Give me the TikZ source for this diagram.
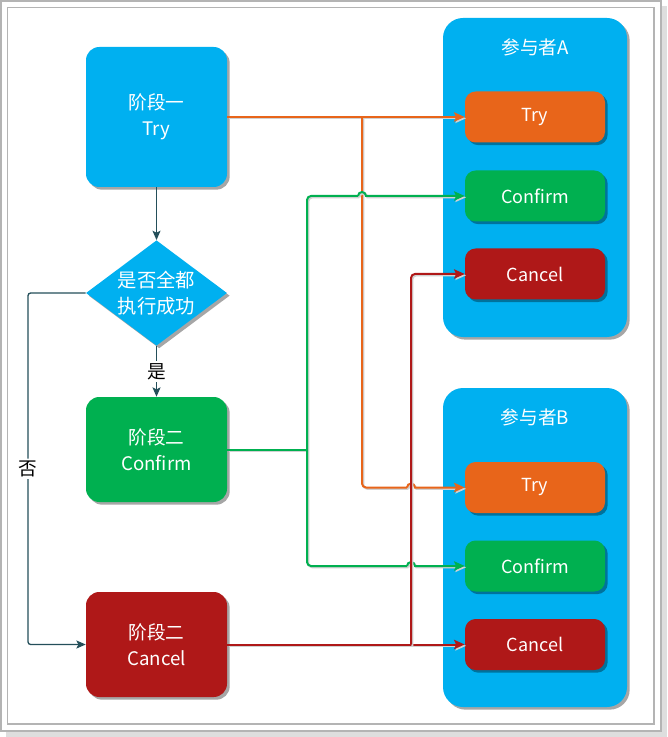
\documentclass[tikz,border=0pt]{standalone}
\usepackage{fontspec}
\newfontfamily\cjk{Noto Sans CJK SC}
\usetikzlibrary{shapes.geometric,shadows,arrows.meta}
\definecolor{cyanb}{HTML}{00B0F0}
\definecolor{greenb}{HTML}{00B050}
\definecolor{orangeb}{HTML}{E8651A}
\definecolor{redb}{HTML}{AF1818}
\definecolor{tealline}{HTML}{244F5A}
\definecolor{framegray}{HTML}{B4B4B4}
\begin{document}
\begin{tikzpicture}[x=0.75pt,y=-0.75pt,
  shade/.style={drop shadow={shadow xshift=2pt,shadow yshift=-2pt,opacity=0.35,fill=black}},
  stagebox/.style={shade,rounded corners=10pt,text=white,align=center,inner sep=0pt,
    minimum width=105.75pt,font=\cjk\fontsize{14}{19.5}\selectfont},
  decision/.style={shade,diamond,aspect=1.34,fill=cyanb,text=white,align=center,inner sep=0pt,
    minimum width=105.75pt,minimum height=79pt,font=\cjk\fontsize{14.5}{19}\selectfont},
  partbox/.style={shade,rounded corners=15pt,fill=cyanb,minimum width=138pt,minimum height=239.25pt},
  parttitle/.style={text=white,font=\cjk\fontsize{14}{16}\selectfont},
  actbox/.style={shade,rounded corners=8pt,text=white,minimum width=105pt,minimum height=38.25pt,
    inner sep=0pt,font=\cjk\fontsize{13.5}{15}\selectfont},
  flow/.style={draw=tealline,line width=1pt,-{Stealth[length=7pt,width=6pt,inset=1.5pt]}},
  lbl/.style={fill=white,text=black,inner sep=1.5pt,font=\cjk\fontsize{14}{15}\selectfont},
  conn/.style={line width=1.5pt,preaction={draw=black!18,line width=1.5pt,transform canvas={shift={(1pt,-1pt)}}}},
  tip/.style={-{Stealth[length=8pt,width=7pt,inset=1.5pt]}}
]
% page frame
\useasboundingbox (0,0) rectangle (667,737);
\fill[black!13] (6,6) rectangle (667,737);
\fill[white] (1,1) rectangle (661,731);
\draw[framegray,line width=1pt] (1,1) rectangle (661,731);
\draw[framegray,line width=1pt] (7.5,7.5) rectangle (654,724);

% participant containers
\node[partbox] (pa) at (535,177.5) {};
\node[parttitle] (pat) at (535,47) {参与者A};
\node[partbox] (pb) at (535,547.5) {};
\node[parttitle] (pbt) at (535,417) {参与者B};

\node[actbox,fill=orangeb] (at) at (535,117) {Try};
\node[actbox,fill=greenb] (ac) at (535,196) {Confirm};
\node[actbox,fill=redb] (ax) at (535,274) {Cancel};
\node[actbox,fill=orangeb] (bt) at (535,487.5) {Try};
\node[actbox,fill=greenb] (bc) at (535,566) {Confirm};
\node[actbox,fill=redb] (bx) at (535,644.5) {Cancel};

% stages
\node[stagebox,fill=cyanb,minimum height=105pt] (s1) at (156.5,117) {阶段一\\Try};
\node[decision] (d) at (156.5,293) {是否全都\\执行成功};
\node[stagebox,fill=greenb,minimum height=78.75pt] (c2) at (156.5,449.5) {阶段二\\Confirm};
\node[stagebox,fill=redb,minimum height=78.75pt] (x2) at (156.5,644.5) {阶段二\\Cancel};

% left flow
\draw[flow] (s1.south) -- (d.north);
\draw[flow] (d.south) -- node[lbl] (yes) {是} (c2.north);
\draw[flow,rounded corners=2pt] (d.west) -- (28,293) -- node[lbl,pos=0.5] (no) {否} (28,644.5) -- (x2.west);

% orange (Try)
\draw[conn,orangeb,tip] (s1.east) -- (at.west);
\draw[conn,orangeb,rounded corners=3pt] (362,117) -- (362,487.5) -- (407,487.5);
\draw[conn,orangeb,tip] (407,487.5) arc[start angle=180,end angle=0,radius=3pt] -- (bt.west);

% green (Confirm)
\draw[conn,greenb] (c2.east) -- (307,449.5);
\draw[conn,greenb,rounded corners=3pt] (358,196) -- (307,196) -- (307,566) -- (407,566);
\draw[conn,greenb,tip] (358,196) arc[start angle=180,end angle=0,radius=3pt] -- (ac.west);
\draw[conn,greenb,tip] (407,566) arc[start angle=180,end angle=0,radius=3pt] -- (bc.west);

% red (Cancel)
\draw[conn,redb,tip] (x2.east) -- (bx.west);
\draw[conn,redb,tip,rounded corners=3pt] (411,644.5) -- (411,274) -- (ax.west);
\end{tikzpicture}
\end{document}
